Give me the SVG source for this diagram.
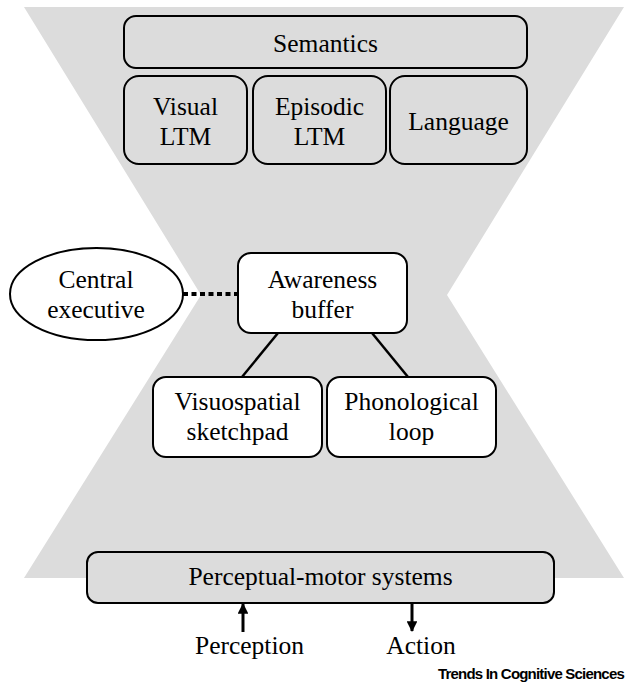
<svg xmlns="http://www.w3.org/2000/svg" width="627" height="684" viewBox="0 0 627 684">
<defs>
<style>
.t{font-family:'Liberation Serif','Times New Roman',serif;font-size:25.5px;fill:#000;text-anchor:middle}
.g{fill:#dcdcdc;stroke:#000;stroke-width:2}
.w{fill:#fff;stroke:#000;stroke-width:2}
.c{stroke:#000;stroke-width:2.5;fill:none}
</style>
<marker id="ah" viewBox="0 0 10 10" refX="9" refY="5" markerWidth="4" markerHeight="3.6" orient="auto" markerUnits="strokeWidth">
<path d="M0,0 L10,5 L0,10 z" fill="#000"/>
</marker>
</defs>
<rect width="627" height="684" fill="#fff"/>
<polygon points="24,7 624,7 447,295 624,578 24,578 201,295" fill="#dcdcdc"/>

<g id="connectors">
<line x1="183" y1="294" x2="238" y2="294" stroke="#000" stroke-width="4" stroke-dasharray="5 3.5"/>
<line class="c" x1="278" y1="333" x2="242" y2="377"/>
<line class="c" x1="372" y1="333" x2="408" y2="377"/>
<line x1="243" y1="632" x2="243" y2="604" stroke="#000" stroke-width="3" marker-end="url(#ah)"/>
<line x1="412" y1="603" x2="412" y2="631" stroke="#000" stroke-width="3" marker-end="url(#ah)"/>
</g>

<g id="semantics"><rect class="g" x="124" y="16" width="403" height="52" rx="12"/><text class="t" x="325.5" y="52">Semantics</text></g>
<g id="visual-ltm"><rect class="g" x="124" y="76" width="123" height="88" rx="15"/><text class="t" x="185.5" y="115">Visual</text><text class="t" x="185.5" y="145">LTM</text></g>
<g id="episodic-ltm"><rect class="g" x="253" y="76" width="133" height="88" rx="15"/><text class="t" x="319.5" y="115">Episodic</text><text class="t" x="319.5" y="145">LTM</text></g>
<g id="language"><rect class="g" x="390" y="76" width="137" height="88" rx="15"/><text class="t" x="458.5" y="130">Language</text></g>

<g id="central-executive"><ellipse class="w" cx="96.5" cy="294" rx="86.5" ry="46"/><text class="t" x="96" y="288">Central</text><text class="t" x="96" y="318">executive</text></g>
<g id="awareness-buffer"><rect class="w" x="238" y="253" width="169" height="80" rx="13"/><text class="t" x="322.5" y="288">Awareness</text><text class="t" x="322.5" y="318">buffer</text></g>
<g id="visuospatial-sketchpad"><rect class="w" x="153" y="377" width="169" height="80" rx="13"/><text class="t" x="237.5" y="410">Visuospatial</text><text class="t" x="237.5" y="440">sketchpad</text></g>
<g id="phonological-loop"><rect class="w" x="327" y="377" width="169" height="80" rx="13"/><text class="t" x="411.5" y="410">Phonological</text><text class="t" x="411.5" y="440">loop</text></g>

<g id="perceptual-motor"><rect class="g" x="87" y="552" width="467" height="51" rx="11"/><text class="t" x="320.5" y="585">Perceptual-motor systems</text></g>
<g id="perception"><text class="t" x="249.5" y="654">Perception</text></g>
<g id="action"><text class="t" x="421" y="654">Action</text></g>

<text x="624" y="679" font-family="'Liberation Sans',Arial,sans-serif" font-weight="bold" font-size="15" letter-spacing="-0.8" text-anchor="end">Trends In Cognitive Sciences</text>
</svg>
